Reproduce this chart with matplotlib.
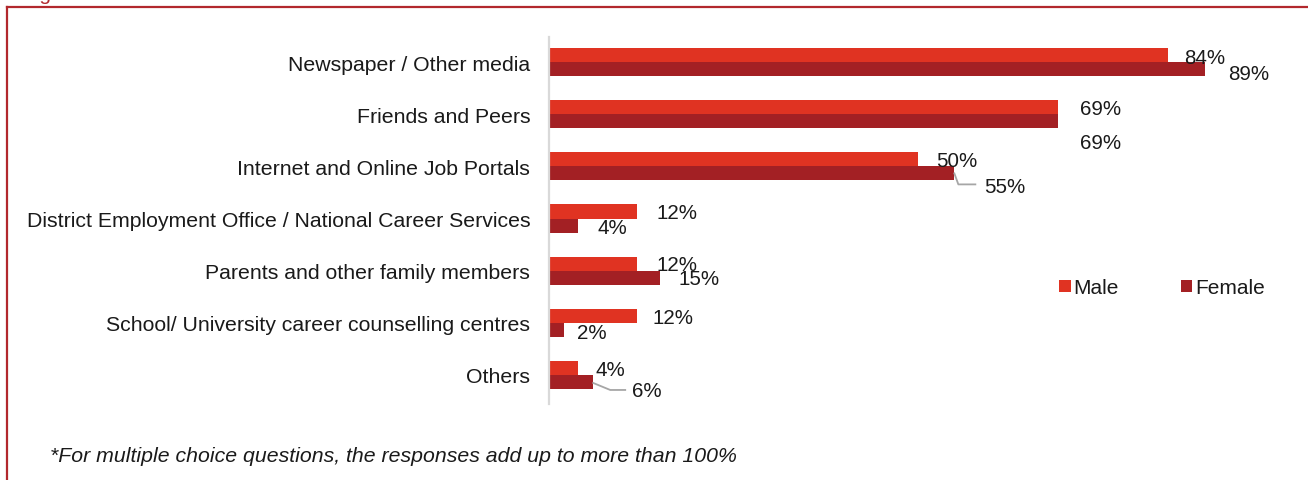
import matplotlib
matplotlib.use("Agg")
import matplotlib.pyplot as plt
from matplotlib.lines import Line2D

plt.rcParams['font.family'] = ['Liberation Sans', 'DejaVu Sans']

categories = [
    "Newspaper / Other media",
    "Friends and Peers",
    "Internet and Online Job Portals",
    "District Employment Office / National Career Services",
    "Parents and other family members",
    "School/ University career counselling centres",
    "Others",
]
male = [84, 69, 50, 12, 12, 12, 4]
female = [89, 69, 55, 4, 15, 2, 6]
series_names = ["Male", "Female"]
footnote = "*For multiple choice questions, the responses add up to more than 100%"

MALE_C = "#E03322"
FEMALE_C = "#A32024"
FRAME_C = "#B2282D"
TXT_C = "#1a1a1a"

W, H = 1308, 481
fig = plt.figure(figsize=(W / 100, H / 100), dpi=100)

# axes geometry in pixels
ax_left, ax_right = 549, 1286
ax_top, ax_bot = 37, 402
ax = fig.add_axes([ax_left / W, 1 - ax_bot / H, (ax_right - ax_left) / W, (ax_bot - ax_top) / H])

n = len(categories)
ypos = list(range(n))
bh = 0.27
ax.barh([y - bh / 2 for y in ypos], male, height=bh, color=MALE_C, label=series_names[0])
ax.barh([y + bh / 2 for y in ypos], female, height=bh, color=FEMALE_C, label=series_names[1])
ax.set_ylim(n - 0.5, -0.5)
ax.set_xlim(0, 100)

for s in ax.spines.values():
    s.set_visible(False)
ax.set_xticks([])
ax.set_yticks(ypos)
ax.set_yticklabels(categories, fontsize=15.3, color=TXT_C)
ax.tick_params(axis="y", length=0, pad=13.5)

# value labels, offset in pixels from each bar end
male_off = [(37, -2), (43, -1), (39, -1), (40, -1), (40, -1), (36, -2), (32, -2)]
female_off = [(44, -4), (43, -21), (50, -13), (34, -2), (40, -1), (28, -3), (54, -9)]
for i in range(n):
    ax.annotate(f"{male[i]}%", (male[i], i - bh / 2), xytext=male_off[i],
                textcoords="offset pixels", ha="center", va="center",
                fontsize=14.8, color=TXT_C)
    ax.annotate(f"{female[i]}%", (female[i], i + bh / 2), xytext=female_off[i],
                textcoords="offset pixels", ha="center", va="center",
                fontsize=14.8, color=TXT_C)

# leader lines for displaced labels
def leader(val, y, pts):
    x0, y0 = ax.transData.transform((val, y))
    xs = [(x0 + dx) / W for dx, dy in pts]
    ys = [(y0 + dy) / H for dx, dy in pts]
    fig.add_artist(Line2D(xs, ys, transform=fig.transFigure, color="#A6A6A6", lw=1.3))

fig.canvas.draw()
leader(female[2], 2 + bh / 2, [(0, 0), (4, -11), (21, -11)])
leader(female[6], 6 + bh / 2, [(0, -1), (17, -8), (32, -8)])

# vertical category axis line
fig.add_artist(Line2D([ax_left / W, ax_left / W], [1 - 38 / H, 1 - 405 / H],
                      transform=fig.transFigure, color="#D9D9D9", lw=1.6))

# legend
leg = fig.legend(loc="center", bbox_to_anchor=(1162 / W, 1 - 289 / H), ncol=2,
                 frameon=False, fontsize=15, handlelength=0.55, handleheight=0.55,
                 handletextpad=0.15, columnspacing=2.95, labelcolor=TXT_C)

# footnote
fig.text(50 / W, 1 - 456 / H, footnote, fontsize=15.3, style="italic",
         color=TXT_C, ha="left", va="center")

# outer frame
fig.add_artist(Line2D([7 / W, 1.0], [1 - 8 / H, 1 - 8 / H], transform=fig.transFigure,
                      color=FRAME_C, lw=1.6))
fig.add_artist(Line2D([7 / W, 7 / W], [1 - 8 / H, 0.0], transform=fig.transFigure,
                      color=FRAME_C, lw=1.6))

# figure caption above the frame
fig.text(22 / W, 1.0, "Figure", fontsize=15, color=FRAME_C, ha="left", va="baseline")

fig.savefig("out.png", dpi=100)
